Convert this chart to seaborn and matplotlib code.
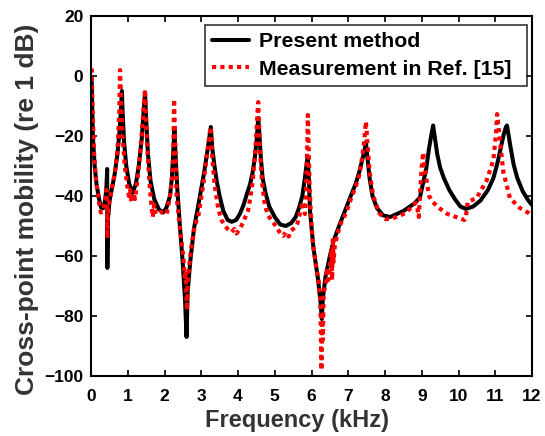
import matplotlib
matplotlib.use("Agg")
import matplotlib.pyplot as plt
import seaborn as sns
import pandas as pd

# ---- data (frequency in kHz, mobility in dB) ----
present_freq = [0.02, 0.05, 0.10, 0.15, 0.22, 0.28, 0.34, 0.39, 0.42, 0.44, 0.445, 0.46, 0.50, 0.56, 0.64,
                0.72, 0.78, 0.82, 0.84, 0.86, 0.90, 0.96, 1.04, 1.13, 1.22, 1.30, 1.38, 1.43, 1.47, 1.50,
                1.55, 1.62, 1.72, 1.85, 1.96, 2.05, 2.15, 2.20, 2.24, 2.27, 2.30, 2.35, 2.42, 2.50, 2.56,
                2.60, 2.63, 2.70, 2.80, 2.95, 3.08, 3.18, 3.26, 3.30, 3.36, 3.42, 3.50, 3.60, 3.72, 3.83,
                3.95, 4.05, 4.15, 4.25, 4.33, 4.40, 4.46, 4.51, 4.55, 4.58, 4.62, 4.67, 4.75, 4.85, 5.00,
                5.15, 5.30, 5.45, 5.57, 5.66, 5.75, 5.82, 5.87, 5.90, 5.93, 5.96, 6.05, 6.18, 6.25, 6.28,
                6.31, 6.38, 6.50, 6.60, 6.75, 6.94, 7.10, 7.20, 7.30, 7.38, 7.44, 7.48, 7.52, 7.58, 7.66,
                7.78, 7.95, 8.14, 8.50, 8.80, 8.95, 9.05, 9.12, 9.20, 9.27, 9.31, 9.35, 9.42, 9.50, 9.60,
                9.75, 9.90, 10.05, 10.20, 10.40, 10.60, 10.80, 10.95, 11.05, 11.15, 11.23, 11.29, 11.32,
                11.36, 11.42, 11.50, 11.60, 11.75, 11.90, 12.00]
present_db = [-2, -20, -30, -36, -41, -44, -44, -41, -37, -31, -64, -48, -42, -38, -33,
              -26, -18, -10, -5, -12, -22, -30, -36, -39, -36, -30, -21, -12, -5.5, -14,
              -26, -35, -41, -44.5, -45.5, -44, -40, -34, -25, -18, -26, -38, -50, -63, -75,
              -87, -72, -62, -51, -41, -32, -24, -17, -24, -30, -35, -40, -45, -48, -48.6,
              -48, -46, -43, -39, -36, -32, -27, -21, -14, -19, -27, -34, -39, -43.5, -47,
              -49.5, -50, -49, -47, -44, -40, -34, -29, -27, -35, -45, -57, -68, -76, -81,
              -74, -67, -60, -55, -50, -44, -39, -36, -32, -28, -25, -22, -27, -34, -40,
              -44, -46.5, -47, -45, -42.5, -40.5, -35, -31, -24, -19, -16.5, -20, -26, -30.5, -34,
              -38, -41, -43.5, -44.3, -43.5, -41.5, -38, -34, -29.5, -24, -19.5, -17, -16.5,
              -19.5, -24, -29.5, -34, -38.5, -41.5, -43]

measured_freq = [0.02, 0.04, 0.08, 0.13, 0.20, 0.27, 0.33, 0.38, 0.42, 0.44, 0.445, 0.46, 0.50, 0.56, 0.64,
                 0.72, 0.77, 0.79, 0.82, 0.86, 0.92, 0.98, 1.03, 1.07, 1.10, 1.15, 1.20, 1.25, 1.32, 1.39,
                 1.44, 1.47, 1.50, 1.55, 1.60, 1.65, 1.68, 1.72, 1.76, 1.88, 2.06, 2.15, 2.20, 2.24, 2.26,
                 2.29, 2.33, 2.42, 2.51, 2.55, 2.57, 2.59, 2.61, 2.63, 2.66, 2.72, 2.82, 2.92, 3.06, 3.15,
                 3.24, 3.26, 3.30, 3.36, 3.46, 3.55, 3.65, 3.75, 3.83, 3.90, 3.96, 4.05, 4.13, 4.20, 4.27,
                 4.33, 4.40, 4.46, 4.50, 4.53, 4.55, 4.57, 4.60, 4.65, 4.72, 4.80, 4.90, 5.00, 5.08, 5.15,
                 5.23, 5.30, 5.38, 5.45, 5.55, 5.62, 5.68, 5.74, 5.78, 5.82, 5.85, 5.88, 5.90, 5.92, 5.95,
                 6.00, 6.05, 6.12, 6.19, 6.24, 6.26, 6.27, 6.29, 6.31, 6.33, 6.38, 6.42, 6.46, 6.50, 6.54,
                 6.56, 6.58, 6.60, 6.63, 6.70, 6.80, 6.94, 7.10, 7.20, 7.30, 7.38, 7.44, 7.48, 7.52, 7.58,
                 7.68, 7.84, 8.02, 8.20, 8.40, 8.56, 8.70, 8.83, 8.88, 8.92, 8.96, 9.00, 9.04, 9.07, 9.12,
                 9.20, 9.30, 9.47, 9.70, 9.93, 10.16, 10.20, 10.25, 10.49, 10.76, 10.95, 11.02, 11.05,
                 11.11, 11.22, 11.40, 11.67, 11.90, 12.00]
measured_db = [2.5, -10, -25, -34, -41, -45.5, -45, -42, -38, -40, -54, -46, -42, -38, -33,
               -25, -12, 2, -8, -20, -30, -36, -40, -38, -42, -39, -41, -36, -28, -18,
               -9, -4.5, -15, -28, -37, -44, -47, -43, -46, -45.3, -46, -40, -34.7, -27, -7.7,
               -22, -40, -51, -60, -67, -65, -72, -78, -70, -65, -58, -50, -46.7, -35.7, -26.7,
               -18, -17, -27, -36, -44, -48, -50, -51.5, -52, -51, -52.5, -51, -49, -47, -45,
               -41, -35, -27, -19, -12, -8.7, -15, -25, -35, -42, -46, -48, -49.5, -51, -52.5,
               -53.3, -52, -53.5, -51.5, -50.5, -49, -46, -43, -42, -46, -40, -25, -13, -22, -38,
               -50, -57, -63, -68, -75, -90, -98, -80, -88, -72, -70, -64, -68, -63, -58,
               -68, -54, -62, -57, -53, -49, -45.7, -40, -37, -33, -27, -21, -15.2, -22, -32,
               -40, -45.7, -47.7, -47.5, -46.5, -45.7, -44, -42.3, -44, -47, -38, -30, -25.5, -30, -34,
               -40, -42, -44, -46, -47, -48, -47, -42, -40.7, -35, -28, -19, -12.7,
               -19.6, -32, -40.7, -44, -45.6, -46.5]

series_labels = ["Present method", "Measurement in Ref. [15]"]
x_ticks = list(range(0, 13))
y_ticks = list(range(-100, 21, 20))

present = pd.DataFrame({"freq": present_freq, "db": present_db})
measured = pd.DataFrame({"freq": measured_freq, "db": measured_db})

sns.set_theme(style="white")
plt.rcParams["font.family"] = ["Liberation Sans", "DejaVu Sans"]
plt.rcParams["font.weight"] = "bold"

fig = plt.figure(figsize=(5.45, 4.36), dpi=100)
ax = fig.add_axes([91 / 545, 1 - 376 / 436, 441 / 545, 360 / 436])

sns.lineplot(data=present, x="freq", y="db", ax=ax, color="black", linewidth=2.9,
             sort=False, estimator=None, label=series_labels[0])
sns.lineplot(data=measured, x="freq", y="db", ax=ax, color="#ff0000", linewidth=3.0,
             sort=False, estimator=None, label=series_labels[1], linestyle=(0, (1, 1)))
for ln in ax.lines:
    ln.set_dash_capstyle("butt")
    ln.set_solid_joinstyle("round")

ax.set_xlim(0, 12)
ax.set_ylim(-100, 20)
ax.set_xticks(x_ticks)
ax.set_yticks(y_ticks)
ax.set_xticklabels([str(t) for t in x_ticks], fontsize=12.5, fontweight="bold", color="black")
ax.set_yticklabels([str(t).replace("-", "\u2212") for t in y_ticks], fontsize=12.5,
                   fontweight="bold", color="black")
ax.tick_params(direction="in", length=4, width=1.2, top=True, right=True, bottom=True, left=True,
               color="black")
ax.tick_params(axis="x", pad=9)
ax.tick_params(axis="y", pad=5.5)
for s in ax.spines.values():
    s.set_visible(True)
    s.set_color("black")
    s.set_linewidth(1.5)

ax.set_xlabel("Frequency (kHz)", fontsize=17, fontweight="bold", color="#333333")
ax.xaxis.set_label_coords(0.466, -0.092)
ax.set_ylabel("Cross-point mobility (re 1 dB)", fontsize=19, fontweight="bold", color="#333333")
ax.yaxis.set_label_coords(-0.118, 0.4625)

leg = ax.legend(loc="upper right", bbox_to_anchor=(0.2585, 0.5, 0.7302, 0.475), mode="expand",
                fontsize=15.3, frameon=True, fancybox=False, handlelength=1.75, borderpad=0.33,
                labelspacing=0.4, handletextpad=0.45, borderaxespad=0)
leg.get_frame().set_edgecolor("black")
leg.get_frame().set_linewidth(1.2)
for t in leg.get_texts():
    t.set_fontweight("bold")
    t.set_color("black")

fig.savefig("out.png", dpi=100)
